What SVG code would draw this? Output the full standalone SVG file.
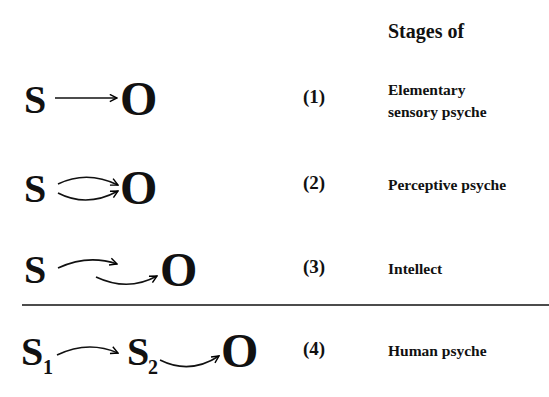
<svg xmlns="http://www.w3.org/2000/svg" width="549" height="397" viewBox="0 0 549 397">
<defs>
<marker id="ah" viewBox="0 0 10 10" refX="9" refY="5" markerWidth="9" markerHeight="9" markerUnits="userSpaceOnUse" orient="auto">
<path d="M1,1 L9,5 L1,9" fill="none" stroke="#000" stroke-width="1.6"/>
</marker>
</defs>
<style>
text{font-family:"Liberation Serif","Times New Roman",serif;font-weight:bold;fill:#111}
.big{font-size:40px}
.o{font-size:48px}
.sub{font-size:20px}
.num{font-size:19px}
.lbl{font-size:15.5px}
.hd{font-size:20px}
.c{fill:none;stroke:#111;stroke-width:1.6;marker-end:url(#ah)}
</style>
<rect width="549" height="397" fill="#fff"/>
<text class="hd" x="388" y="38">Stages of</text>
<g id="row1">
<text class="big" x="24" y="113">S</text>
<text class="o" x="120" y="115">O</text>
<text class="num" x="303" y="103">(1)</text>
<text class="lbl" x="388" y="95">Elementary</text>
<text class="lbl" x="388" y="117">sensory psyche</text>
</g>
<g id="row2">
<text class="big" x="24" y="202">S</text>
<text class="o" x="120" y="204">O</text>
<text class="num" x="303" y="189">(2)</text>
<text class="lbl" x="388" y="190">Perceptive psyche</text>
</g>
<g id="row3">
<text class="big" x="24" y="283">S</text>
<text class="o" x="160" y="286">O</text>
<text class="num" x="303" y="273">(3)</text>
<text class="lbl" x="388" y="274">Intellect</text>
</g>
<g id="row4">
<text class="big" x="21" y="365">S</text>
<text class="sub" x="43" y="374">1</text>
<text class="big" x="127" y="365">S</text>
<text class="sub" x="148" y="374">2</text>
<text class="o" x="221" y="367">O</text>
<text class="num" x="303" y="355">(4)</text>
<text class="lbl" x="388" y="356">Human psyche</text>
</g>
<g id="connectors">
<path class="c" d="M55,98 L117,98"/>
<path class="c" d="M58,184 Q87,170 118,185"/>
<path class="c" d="M58,193 Q87,208 118,191"/>
<path class="c" d="M58,268 Q88,254 117,264"/>
<path class="c" d="M96,277 Q128,292 157,276"/>
<path class="c" d="M57,355 Q88,340 118,353"/>
<path class="c" d="M160,360 Q190,375 219,356"/>
<line x1="22" y1="305" x2="549" y2="305" stroke="#111" stroke-width="1.6"/>
</g>
</svg>
